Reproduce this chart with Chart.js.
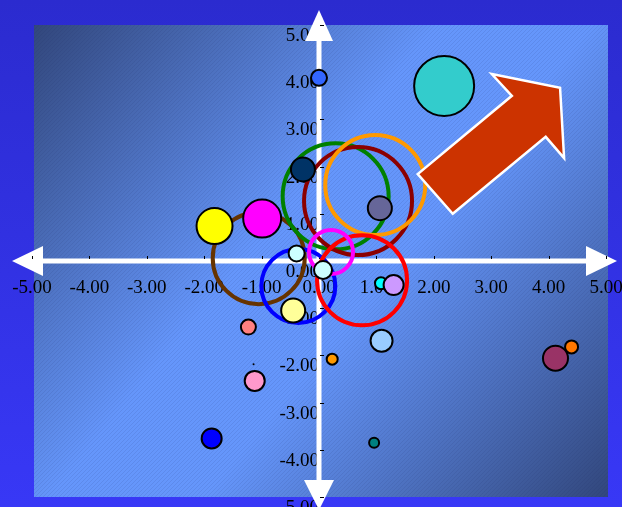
<!DOCTYPE html>
<html>
<head>
<meta charset="utf-8">
<script src="https://cdn.jsdelivr.net/npm/chart.js@4.4.1/dist/chart.umd.min.js"></script>
<style>
  html, body { margin: 0; padding: 0; background: #3030dc; }
  #wrap { width: 622px; height: 507px; }
  canvas { display: block; }
</style>
</head>
<body>
<div id="wrap"><canvas id="chart" width="622" height="507"></canvas></div>
<script>
// Bubble values (x, y) and bubble sizes (radius in px), drawn in this order:
// the hollow rings first, then the filled bubbles on top of them.
const xValues = [-1.05, -0.36, 0.29, 0.68, 0.98, 0.75, 0.21,
                 0.00, 2.18, -0.28, 1.06, -1.82, -0.99, -0.39, 0.07, 1.08, 1.30,
                 -0.45, -1.23, 1.09, 0.23, -1.14, -1.12, -1.87, 0.96, 4.12, 4.40];
const yValues = [0.06, -0.53, 1.37, 1.27, 1.61, -0.41, 0.19,
                 3.88, 3.71, 1.94, 1.12, 0.74, 0.90, 0.16, -0.19, -0.47, -0.51,
                 -1.05, -1.40, -1.69, -2.08, -2.19, -2.54, -3.76, -3.85, -2.06, -1.82];
const bubbleSizes = [46, 37, 53, 54, 50, 45, 22,
                     8, 30, 12, 12, 18, 19, 8, 9, 6, 10,
                     12, 7.5, 11, 5.5, 1, 10, 10, 5, 12.5, 6.5];

// Axis range and tick labels
const axisMin = -5;
const axisMax = 5;
const tickValues = [-5, -4, -3, -2, -1, 0, 1, 2, 3, 4, 5];

// Colours of each bubble and whether it is drawn as a ring
const bubbleColors = ['#663300', '#0000ff', '#008000', '#8b0000', '#ff9900', '#ff0000', '#ff00ff',
                      '#3366ff', '#33cccc', '#003366', '#666699', '#ffff00', '#ff00ff', '#ccffff', '#ccffff', '#00ffff', '#cc99ff',
                      '#ffff99', '#ff8080', '#99ccff', '#ff9900', '#000000', '#ff99cc', '#0000ff', '#008080', '#993366', '#ff7700'];
const ringFlags = [1, 1, 1, 1, 1, 1, 1,
                   0, 0, 0, 0, 0, 0, 0, 0, 0, 0,
                   0, 0, 0, 0, 0, 0, 0, 0, 0, 0];

// Outline of the big pointer arrow, in axis units
const pointerX = [3.01, 4.20, 4.27, 3.95, 2.33, 1.72, 3.36];
const pointerY = [3.96, 3.67, 2.18, 2.63, 1.00, 1.84, 3.50];

const points = xValues.map((x, i) => ({ x: x, y: yValues[i], r: bubbleSizes[i] }));

function hatchPattern(ctx) {
  const c = document.createElement('canvas');
  c.width = 4; c.height = 4;
  const p = c.getContext('2d');
  p.strokeStyle = 'rgba(20, 30, 90, 0.10)';
  p.lineWidth = 1;
  p.beginPath();
  p.moveTo(0, 4); p.lineTo(4, 0);
  p.stroke();
  return ctx.createPattern(c, 'repeat');
}

// Axes sit inside the plot, so their labels must not shrink the plot area
function noLabelPadding(s) {
  s.paddingLeft = 0; s.paddingRight = 0; s.paddingTop = 0; s.paddingBottom = 0;
}

const decor = {
  id: 'decor',
  beforeDraw(chart) {
    const { ctx, chartArea: a, width, height } = chart;
    ctx.save();
    let g = ctx.createLinearGradient(0, 0, 0, height);
    g.addColorStop(0, '#2b2bcf');
    g.addColorStop(1, '#3838f6');
    ctx.fillStyle = g;
    ctx.fillRect(0, 0, width, height);

    const l = a.left + 2, t = a.top, r = a.right + 2, b = a.bottom;
    g = ctx.createLinearGradient(l, t, r, b);
    g.addColorStop(0, '#32477c');
    g.addColorStop(0.42, '#6596fb');
    g.addColorStop(0.58, '#6596fb');
    g.addColorStop(1, '#32477c');
    ctx.fillStyle = g;
    ctx.fillRect(l, t, r - l, b - t);
    ctx.fillStyle = hatchPattern(ctx);
    ctx.fillRect(l, t, r - l, b - t);
    ctx.restore();
  },
  beforeDatasetsDraw(chart) {
    const { ctx, chartArea: a, scales } = chart;
    const x0 = scales.x.getPixelForValue(0);
    const y0 = scales.y.getPixelForValue(0);
    ctx.save();
    ctx.fillStyle = '#ffffff';
    ctx.strokeStyle = '#ffffff';
    ctx.lineWidth = 5;
    ctx.beginPath();
    ctx.moveTo(a.left + 10, y0); ctx.lineTo(a.right - 18, y0);
    ctx.moveTo(x0, a.top + 15); ctx.lineTo(x0, a.bottom - 15);
    ctx.stroke();
    const tri = (p) => { ctx.beginPath(); ctx.moveTo(p[0], p[1]); ctx.lineTo(p[2], p[3]); ctx.lineTo(p[4], p[5]); ctx.closePath(); ctx.fill(); };
    tri([a.left - 20, y0, a.left + 11, y0 - 15, a.left + 11, y0 + 15]);
    tri([a.right + 11, y0, a.right - 20, y0 - 15, a.right - 20, y0 + 15]);
    tri([x0, a.top - 15, x0 - 14, a.top + 16, x0 + 14, a.top + 16]);
    tri([x0, a.bottom + 13, x0 - 15, a.bottom - 17, x0 + 15, a.bottom - 17]);

    // small tick marks along both axes
    ctx.fillStyle = '#000000';
    tickValues.forEach(v => {
      const px = Math.round(scales.x.getPixelForValue(v));
      const py = Math.round(scales.y.getPixelForValue(v));
      ctx.fillRect(px, y0 - 5, 1, 3);
      ctx.fillRect(x0 + 1, py, 4, 1);
    });
    ctx.restore();
  },
  afterDatasetsDraw(chart) {
    const { ctx, scales } = chart;
    ctx.save();
    ctx.beginPath();
    pointerX.forEach((v, i) => {
      const px = scales.x.getPixelForValue(v);
      const py = scales.y.getPixelForValue(pointerY[i]);
      if (i === 0) ctx.moveTo(px, py); else ctx.lineTo(px, py);
    });
    ctx.closePath();
    ctx.fillStyle = '#cc3300';
    ctx.fill();
    ctx.lineJoin = 'miter';
    ctx.lineWidth = 2.5;
    ctx.strokeStyle = '#ffffff';
    ctx.stroke();
    ctx.restore();
  }
};

const tickFont = { family: '"Liberation Serif", "Times New Roman", serif', size: 19 };

new Chart(document.getElementById('chart'), {
  type: 'bubble',
  data: {
    datasets: [{
      data: points,
      backgroundColor: bubbleColors.map((c, i) => ringFlags[i] ? 'rgba(0,0,0,0)' : c),
      borderColor: bubbleColors.map((c, i) => ringFlags[i] ? c : '#000000'),
      borderWidth: bubbleColors.map((c, i) => ringFlags[i] ? 4 : (bubbleSizes[i] < 2 ? 0 : 2))
    }]
  },
  options: {
    responsive: false,
    animation: false,
    events: [],
    layout: { autoPadding: false, padding: { left: 32, top: 25, right: 16, bottom: 10 } },
    plugins: { legend: { display: false }, tooltip: { enabled: false } },
    scales: {
      x: {
        type: 'linear',
        min: axisMin, max: axisMax,
        position: { y: 0 },
        z: 1,
        grid: { display: false },
        border: { display: false },
        afterBuildTicks: (s) => { s.ticks = tickValues.map(v => ({ value: v })); },
        afterFit: noLabelPadding,
        ticks: {
          autoSkip: false, maxRotation: 0, padding: 8,
          color: '#000000', font: tickFont,
          callback: (v) => Number(v).toFixed(2)
        }
      },
      y: {
        type: 'linear',
        min: axisMin, max: axisMax,
        position: { x: 0 },
        z: 1,
        grid: { display: false },
        border: { display: false },
        afterBuildTicks: (s) => { s.ticks = tickValues.map(v => ({ value: v })); },
        afterFit: noLabelPadding,
        ticks: {
          autoSkip: false, labelOffset: 11,
          color: '#000000', font: tickFont,
          callback: (v) => Number(v).toFixed(2)
        }
      }
    }
  },
  plugins: [decor]
});
</script>
</body>
</html>
